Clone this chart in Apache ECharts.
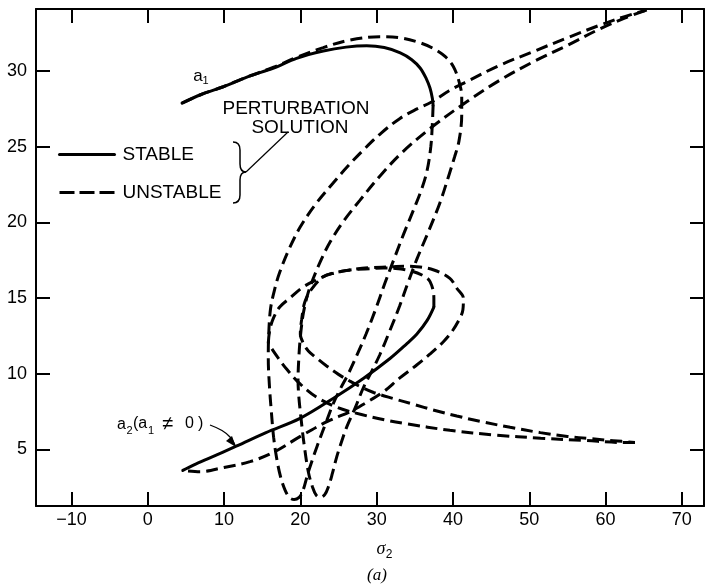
<!DOCTYPE html>
<html><head><meta charset="utf-8">
<script src="https://cdn.jsdelivr.net/npm/echarts@6/dist/echarts.min.js"></script>
<style>html,body{margin:0;padding:0;background:#fff}#c{width:706px;height:588px}</style>
</head><body><div id="c"></div>
<script>
const xTicks = [-10, 0, 10, 20, 30, 40, 50, 60, 70];
const yTicks = [5, 10, 15, 20, 25, 30];

// a1 curve
const a1Stable = [[4.5,27.88],[7,28.45],[9.9,28.96],[13,29.6],[16.5,30.2],[19.5,30.84],[23,31.32],[26,31.58],[28.7,31.67],[31,31.55],[33.1,31.2],[34.6,30.75],[35.7,30.2],[36.5,29.5],[37.0,28.86],[37.3,28.2],[37.4,27.75]];
const a1UnstableInner = [[37.4,27.75],[37.3,26.5],[37.1,25.0],[36.6,23.4],[35.9,22.2],[34.9,20.9],[33.6,19.3],[32.3,17.6],[31.1,16.0],[29.9,14.3],[28.6,12.6],[27.4,11.2],[26.3,10.0],[25.2,8.95],[24.3,8.0],[23.5,6.95],[22.2,5.2],[21.05,3.5],[20.3,2.2],[19.8,1.8],[19.2,1.68],[18.6,1.8],[18.0,2.3],[17.4,3.2],[16.9,4.4],[16.5,5.8],[16.2,7.5],[15.95,9.2],[15.8,11.0],[15.85,12.5],[16.1,14.3],[16.7,15.7],[17.3,16.7],[18.5,18.2],[20.0,19.7],[22.0,21.2],[24.3,22.6],[26.3,23.75],[28.3,24.8],[30.6,25.9],[33.06,26.87],[35.3,27.5],[37.2,27.95],[39.5,28.7],[41.8,29.3],[46,30.35],[50.5,31.28],[55,32.2],[59.3,33.04],[62.5,33.6],[65.4,34.03]];
const a1UnstableOuter = [[4.5,27.88],[7,28.45],[9.9,28.96],[13,29.6],[16.5,30.25],[19.5,30.9],[23,31.55],[26.5,32.05],[30.4,32.27],[33,32.2],[35.5,31.9],[37.4,31.5],[39,30.95],[40.05,30.3],[40.8,29.3],[41.15,28.3],[41.15,27.1],[40.8,25.4],[40.2,24.3],[39.4,23.0],[38.3,21.3],[36.8,19.4],[35.3,17.6],[34.1,16.0],[33.0,14.45],[31.7,12.8],[30.4,11.23],[29.3,10.1],[28.2,9.0],[27.2,7.75],[26.1,6.5],[25.4,5.5],[24.77,4.5],[24.2,3.4],[23.7,2.55],[23.2,2.0],[22.6,1.82],[22.1,1.95],[21.6,2.5],[21.05,3.5],[20.5,5.3],[20.1,7.0],[19.8,8.5],[19.7,9.6],[19.8,11.0],[20.0,12.4],[20.4,14.0],[21.0,15.3],[21.7,16.3],[22.8,17.6],[23.9,18.7],[25.7,20.1],[27.8,21.45],[30.5,23.1],[33.3,24.6],[37,26.2],[41.8,27.97],[46,29.35],[50.5,30.6],[55,31.7],[59.3,32.8],[62.5,33.5],[65.4,34.03]];

// a2 curve (a1 != 0)
const a2Stable = [[4.6,3.6],[6,3.95],[8,4.4],[11.6,5.2],[15.5,6.1],[19.96,7.04],[24.3,8.36],[28.3,9.7],[31.75,11.0],[34,12.0],[35.25,12.6],[36.6,13.5],[37.5,14.4]];
const a2UnstableInner = [[37.5,14.4],[37.5,15.0],[37.0,16.08],[36.0,16.5],[34.37,16.8],[32.5,16.95],[30.88,16.98],[28.5,16.92],[26.5,16.85],[24.5,16.65],[23.0,16.4],[21.5,15.6],[20.6,14.75],[20.18,13.6],[20.0,12.6],[20.4,12.0],[21.05,11.5],[22.2,11.0],[23.45,10.5],[25,9.95],[26.5,9.5],[28,9.1],[29.6,8.75],[32.2,8.35],[35,7.95],[37.4,7.6],[40.5,7.2],[43.5,6.85],[47.5,6.45],[51.45,6.1],[55,5.85],[58,5.7],[61,5.57],[63.85,5.45]];
const a2UnstableTail = [[63.85,5.45],[62,5.45],[57.35,5.58],[51.5,5.73],[45.55,5.94],[39.6,6.25],[33.75,6.7],[31,6.95],[28,7.3],[24.9,7.75],[22.1,8.45],[20,9.3],[18.2,10.3],[17,11.1],[15.8,12.0]];
const a2UnstableOuter = [[15.8,12.0],[16.0,12.9],[16.46,13.65],[17.3,14.4],[18.65,15.0],[20.3,15.7],[22.1,16.19],[24,16.6],[26.5,16.85],[29,17.0],[31.76,17.05],[33.75,17.1],[35.25,17.07],[37.5,16.85],[39.6,16.3],[40.5,15.64],[41.37,14.97],[41.3,14.2],[40.9,13.65],[39.9,12.8],[38.75,12.11],[37,11.3],[35.25,10.57],[33,9.7],[30.9,8.8],[28.7,8.1],[26.5,7.48],[23.5,6.83],[20,5.85],[16.5,4.8],[13.4,4.18],[10,3.8],[6.85,3.52],[4.6,3.6]];

const solidStyle = { color: '#000', width: 3, type: 'solid', cap: 'round' };
const dashStyle = { color: '#000', width: 3, type: [12, 6], cap: 'butt' };

function mk(name, data, style, z) {
  return { type: 'line', name: name, data: data, smooth: 0.35, symbol: 'none', showSymbol: false,
    lineStyle: style, itemStyle: { color: '#000' }, z: z, silent: true };
}

const xMin = -14.64, xMax = 72.9, yMin = 1.25, yMax = 34.1;
const font = '"Liberation Sans", Arial, sans-serif';

function xAx(pos, showLabel) {
  return { type: 'value', position: pos, min: xMin, max: xMax, splitNumber: 8,
    axisLine: { show: true, onZero: false, lineStyle: { color: '#000', width: 2 } },
    axisTick: { show: true, inside: true, length: 14, lineStyle: { color: '#000', width: 2 } },
    splitLine: { show: false },
    axisLabel: { show: showLabel, color: '#000', fontSize: 18, fontFamily: font, margin: 5,
      showMinLabel: false, showMaxLabel: false,
      formatter: v => xTicks.includes(v) ? String(v).replace('-', '\u2212') : '' } };
}
function yAx(pos, showLabel) {
  return { type: 'value', position: pos, min: yMin, max: yMax, splitNumber: 6,
    axisLine: { show: true, onZero: false, lineStyle: { color: '#000', width: 2 } },
    axisTick: { show: true, inside: true, length: 14, lineStyle: { color: '#000', width: 2 } },
    splitLine: { show: false },
    axisLabel: { show: showLabel, color: '#000', fontSize: 18, fontFamily: font, margin: 9,
      showMinLabel: false, showMaxLabel: false,
      formatter: v => yTicks.includes(v) ? String(v) : '' } };
}

function txt(t, x, y, f, align) {
  return { type: 'text', style: { text: t, x: x, y: y, font: f, fill: '#000', align: align || 'center', verticalAlign: 'middle' } };
}
function quad(x1, y1, cx, cy, x2, y2) {
  return { type: 'bezierCurve', shape: { x1: x1, y1: y1, cpx1: cx, cpy1: cy, x2: x2, y2: y2 }, style: { stroke: '#000', lineWidth: 1.5, fill: null } };
}
function seg(x1, y1, x2, y2, w) {
  return { type: 'line', shape: { x1: x1, y1: y1, x2: x2, y2: y2 }, style: { stroke: '#000', lineWidth: w || 1.5 } };
}

const chart = echarts.init(document.getElementById('c'), null, { renderer: 'canvas' });
chart.setOption({
  animation: false,
  backgroundColor: '#fff',
  grid: { left: 36, right: 2, top: 9, bottom: 82, containLabel: false },
  xAxis: [xAx('bottom', true), xAx('top', false)],
  yAxis: [yAx('left', true), yAx('right', false)],
  legend: {
    left: 53, top: 140, orient: 'vertical', itemWidth: 55, itemHeight: 14, itemGap: 19,
    selectedMode: false,
    itemStyle: { opacity: 0 },
    textStyle: { color: '#000', fontSize: 19, fontFamily: font, padding: [0, 0, 0, 3] },
    data: [
      { name: 'STABLE', lineStyle: { width: 3, type: 'solid' }, itemStyle: { opacity: 0 } },
      { name: 'UNSTABLE', lineStyle: { width: 3, type: [15, 5] }, itemStyle: { opacity: 0 } }
    ]
  },
  series: [
    mk('UNSTABLE', a1UnstableOuter, dashStyle, 2),
    mk('UNSTABLE', a1UnstableInner, dashStyle, 2),
    mk('UNSTABLE', a2UnstableInner, dashStyle, 2),
    mk('UNSTABLE', a2UnstableTail, dashStyle, 2),
    mk('UNSTABLE', a2UnstableOuter, dashStyle, 2),
    mk('STABLE', a1Stable, solidStyle, 3),
    mk('STABLE', a2Stable, solidStyle, 3)
  ],
  graphic: [
    txt('a', 198, 76, '17px ' + font),
    txt('1', 205.5, 81, '11px ' + font),
    txt('PERTURBATION', 296, 109, '19px ' + font),
    txt('SOLUTION', 300, 127.5, '19px ' + font),
    quad(233, 142, 240, 142, 240, 150),
    seg(240, 150, 240, 164),
    quad(240, 164, 240, 172, 246, 172),
    quad(246, 172, 240, 172, 240, 180),
    seg(240, 180, 240, 195),
    quad(240, 195, 240, 203, 233, 203),
    seg(246, 172, 288, 132, 1.2),
    // a2 label
    txt('a', 117, 425, '16px ' + font, 'left'),
    txt('2', 126.5, 431, '11px ' + font, 'left'),
    txt('(a', 133, 424, '16px ' + font, 'left'),
    txt('1', 148, 431, '11px ' + font, 'left'),
    txt('\u2260', 162, 424, '20px ' + font, 'left'),
    txt('0', 185, 424, '16px ' + font, 'left'),
    txt(')', 198, 424, '16px ' + font, 'left'),
    { type: 'polyline', shape: { points: [[210,425],[222,430.5],[230,437],[235,445]], smooth: 0.4 }, style: { stroke: '#000', lineWidth: 1.3, fill: null } },
    { type: 'polygon', shape: { points: [[236,447],[226,441],[232,436]] }, style: { fill: '#000' } },
    // axis title
    txt('\u03c3', 381, 549, 'italic 18px "Liberation Serif", serif'),
    txt('2', 389, 555, '12px ' + font),
    txt('(a)', 377, 576, 'italic 17px "Liberation Serif", serif')
  ]
});
</script>
</body></html>
